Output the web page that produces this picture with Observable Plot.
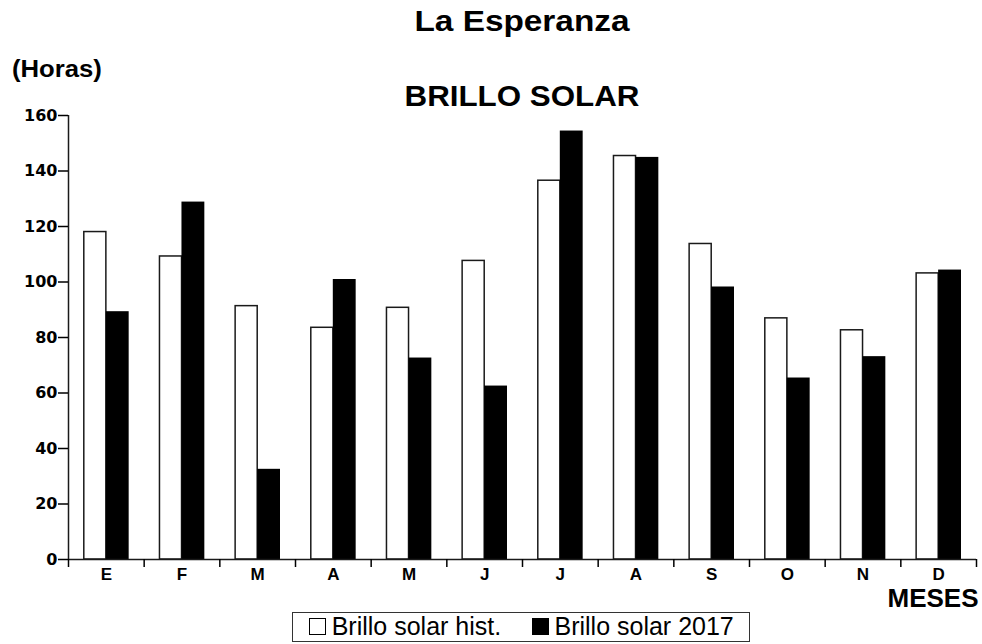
<!DOCTYPE html>
<html><head><meta charset="utf-8">
<script src="https://cdn.jsdelivr.net/npm/d3@7"></script>
<script src="https://cdn.jsdelivr.net/npm/@observablehq/plot@0.6"></script>
<style>
body{margin:0;background:#fff;font-family:"Liberation Sans",Arial,sans-serif;color:#000;}
#wrap{position:relative;width:982px;height:644px;overflow:hidden;background:#fff;}
.t{position:absolute;white-space:nowrap;line-height:1;font-weight:bold;}
#title{left:322px;width:400px;text-align:center;top:7px;font-size:29px;transform:scaleX(1.15);}
#sub{left:322px;width:400px;text-align:center;top:81.5px;font-size:29px;transform:scaleX(1.08);}
#horas{left:12px;top:57px;font-size:24px;transform:scaleX(1.07);transform-origin:left center;}
#chart{position:absolute;left:0;top:108px;}
#legend{position:absolute;left:292px;top:612px;width:458px;height:30px;border:1px solid #333;box-sizing:border-box;font-size:25px;line-height:1;}
#legend span{position:absolute;white-space:nowrap;}
.sq{width:17px;height:17px;box-sizing:border-box;border:1.2px solid #000;}
</style></head>
<body><div id="wrap">
<div class="t" id="title"></div>
<div class="t" id="horas"></div>
<div class="t" id="sub"></div>
<div id="chart"></div>
<div id="legend"></div>
</div>
<script>
const chartTitle = "La Esperanza";
const chartSubtitle = "BRILLO SOLAR";
const yUnit = "(Horas)";
const xTitle = "MESES";
const months = ["E","F","M","A","M","J","J","A","S","O","N","D"];
const histValues = [118.0,109.2,91.3,83.5,90.7,107.6,136.5,145.4,113.7,86.9,82.6,103.1];
const values2017 = [89.3,128.8,32.5,100.9,72.6,62.5,154.4,144.9,98.2,65.4,73.1,104.3];
const yTicks = [0,20,40,60,80,100,120,140,160];
const seriesNames = ["Brillo solar hist.","Brillo solar 2017"];
const seriesFills = ["white","black"];

document.getElementById("title").textContent = chartTitle;
document.getElementById("sub").textContent = chartSubtitle;
document.getElementById("horas").textContent = yUnit;

const rows = months.map((m,i)=>({i, m, hist: histValues[i], y17: values2017[i]}));

const chart = Plot.plot({
  width: 982, height: 500,
  marginTop: 7, marginBottom: 49, marginLeft: 68, marginRight: 6,
  style: {fontFamily: '"Liberation Sans", Arial, sans-serif', background: "white", color: "black", overflow: "visible"},
  x: {domain: [0, months.length], label: null},
  y: {domain: [0, 160], label: null},
  marks: [
    Plot.rectY(rows, {x1: "i", x2: d => d.i + 1, y: "hist", fill: seriesFills[0], stroke: "#1a1a1a", strokeWidth: 1.5, insetLeft: 15.8, insetRight: 37.8}),
    Plot.rectY(rows, {x1: "i", x2: d => d.i + 1, y: "y17", fill: seriesFills[1], insetLeft: 37.8, insetRight: 15}),
    Plot.ruleX([0], {stroke: "#1a1a1a", strokeWidth: 1.5}),
    Plot.ruleY([0], {stroke: "#1a1a1a", strokeWidth: 1.5}),
    Plot.axisY({ticks: yTicks, tickSize: 10, tickPadding: 1, fontSize: 16, fontWeight: "bold", fontFamily: "DejaVu Sans", label: null, strokeWidth: 1.5}),
    Plot.axisX({ticks: d3.range(months.length + 1), tickSize: 8, tickFormat: () => "", label: null, strokeWidth: 1.5}),
    Plot.axisX({ticks: months.map((m, i) => i + 0.5), tickSize: 0, tickPadding: 8, tickFormat: v => months[Math.floor(v)], fontSize: 17, fontWeight: "bold", label: null}),
    Plot.text([xTitle], {text: d => d, frameAnchor: "bottom-right", textAnchor: "end", lineAnchor: "top", dx: 2, dy: 29, fontSize: 26, fontWeight: "bold"})
  ]
});
document.getElementById("chart").appendChild(chart);

const lg = document.getElementById("legend");
const items = [
  {sqLeft: 15.5, txtLeft: 38.7},
  {sqLeft: 238.7, txtLeft: 261.5}
];
seriesNames.forEach((name, k) => {
  const sq = document.createElement("span");
  sq.className = "sq";
  sq.style.left = items[k].sqLeft + "px";
  sq.style.top = "4.5px";
  sq.style.background = seriesFills[k];
  lg.appendChild(sq);
  const tx = document.createElement("span");
  tx.textContent = name;
  tx.style.left = items[k].txtLeft + "px";
  tx.style.top = "1px";
  lg.appendChild(tx);
});
</script>
</body></html>
